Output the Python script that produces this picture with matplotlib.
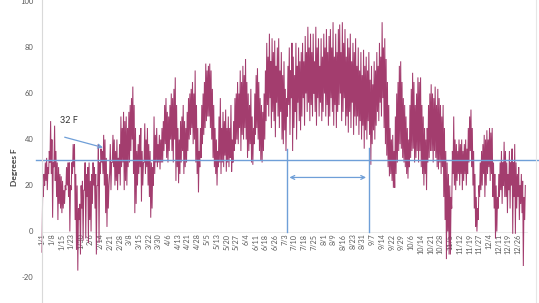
import numpy as np
import matplotlib
matplotlib.use("Agg")
import matplotlib.pyplot as plt
from matplotlib.lines import Line2D

# ---- data: daily high / low temperatures (deg F), day 0 = Jan 1 ----
highs = [
    17, 25, 30, 32, 28, 35, 48,
    40, 30, 46, 35, 30, 28, 25,
    24, 22, 18, 20, 28, 30, 30,
    20, 30, 38, 38, 25, 20, 10,
    12, 20, 22, 18, 30, 25, 28,
    30, 22, 25, 30, 28, 25, 20,
    38, 30, 36, 35, 42, 40, 32,
    25, 20, 38, 30, 42, 40, 35,
    40, 32, 38, 50, 45, 52, 48,
    50, 45, 52, 55, 58, 63, 55,
    45, 35, 38, 42, 45, 35, 30,
    47, 40, 45, 38, 35, 30, 28,
    50, 42, 45, 38, 42, 40, 45,
    48, 55, 58, 52, 50, 55, 60,
    58, 62, 67, 55, 45, 40, 48,
    50, 55, 48, 45, 52, 58, 60,
    62, 65, 60, 70, 55, 45, 35,
    45, 55, 60, 65, 73, 70, 72,
    73, 70, 62, 55, 45, 40, 35,
    50, 58, 45, 52, 48, 53, 45,
    50, 45, 55, 40, 48, 58, 60,
    65, 60, 70, 65, 72, 68, 75,
    65, 60, 55, 62, 50, 45, 60,
    68, 71, 65, 58, 55, 52, 60,
    70, 82, 76, 86, 74, 84, 78,
    83, 72, 80, 84, 70, 78, 68,
    74, 62, 58, 72, 80, 70, 82,
    76, 68, 82, 72, 80, 74, 78,
    82, 74, 85, 78, 89, 80, 86,
    78, 86, 74, 89, 80, 84, 72,
    84, 76, 86, 80, 88, 78, 85,
    88, 80, 91, 76, 86, 78, 88,
    90, 78, 91, 82, 88, 76, 84,
    80, 86, 74, 82, 78, 84, 72,
    80, 70, 78, 68, 79, 72, 76,
    70, 78, 66, 72, 64, 74, 70,
    78, 72, 82, 76, 91, 80, 84,
    75, 65, 55, 45, 40, 42, 35,
    50, 60, 65, 72, 74, 65, 58,
    55, 50, 45, 40, 55, 62, 69,
    65, 55, 60, 67, 65, 67, 55,
    50, 45, 40, 45, 55, 60, 64,
    60, 58, 63, 55, 62, 58, 55,
    50, 55, 45, 35, 30, 25, 20,
    15, 35, 50, 40, 38, 35, 40,
    38, 40, 35, 38, 40, 36, 45,
    50, 53, 45, 35, 25, 15, 10,
    20, 30, 35, 38, 42, 40, 44,
    40, 45, 43, 45, 30, 25, 20,
    15, 25, 30, 35, 30, 39, 35,
    30, 25, 35, 30, 36, 30, 38,
    30, 25, 28, 20, 25, 22, 15,
    20,
]
lows = [
    -9, 15, 20, 22, 18, 25, 30,
    25, 6, 28, 22, 15, 5, 12,
    10, 8, 10, 12, 18, 20, 15,
    0, 18, 25, 28, 5, -8, -17,
    5, -10, 10, -4, 18, -3, 15,
    -5, 5, 0, 12, 20, 10, -10,
    20, -5, 25, 30, 25, 20, 8,
    2, 10, 25, 18, 30, 28, 20,
    22, 18, 25, 20, 28, 30, 18,
    22, 20, 28, 30, 35, 40, 25,
    8, 12, 20, 25, 28, 13, 20,
    30, 25, 28, 20, 15, 6, 10,
    20, 25, 30, 28, 30, 27, 30,
    30, 35, 38, 32, 30, 35, 40,
    35, 30, 40, 22, 28, 21, 25,
    30, 35, 25, 28, 30, 35, 40,
    42, 45, 38, 40, 30, 25, 17,
    28, 32, 38, 42, 45, 48, 50,
    50, 45, 40, 32, 28, 25, 20,
    28, 30, 25, 30, 28, 33, 26,
    30, 28, 32, 26, 30, 35, 38,
    40, 38, 45, 35, 42, 40, 45,
    40, 32, 35, 38, 30, 29, 38,
    42, 45, 40, 35, 31, 30, 35,
    40, 48, 55, 50, 58, 45, 52,
    48, 41, 56, 50, 45, 52, 40,
    38, 44, 35, 50, 55, 42, 58,
    35, 45, 52, 40, 56, 48, 44,
    50, 58, 46, 60, 52, 56, 48,
    55, 50, 60, 52, 46, 58, 50,
    56, 48, 52, 60, 50, 55, 46,
    50, 58, 52, 46, 55, 45, 52,
    55, 60, 48, 52, 58, 46, 50,
    43, 52, 45, 56, 42, 50, 46,
    50, 42, 48, 40, 46, 36, 44,
    40, 48, 42, 29, 38, 44, 40,
    46, 52, 48, 56, 50, 58, 45,
    38, 33, 28, 24, 25, 22, 19,
    19, 25, 30, 35, 38, 36, 32,
    30, 28, 25, 23, 28, 32, 35,
    36, 30, 32, 35, 30, 35, 28,
    25, 20, 25, 18, 30, 32, 35,
    35, 30, 35, 32, 28, 27, 30,
    25, 28, 15, 5, -12, 0, -10,
    -10, 10, 25, 20, 18, 22, 25,
    20, 25, 18, 22, 25, 20, 25,
    30, 35, 28, 20, 10, 2, 0,
    5, 15, 18, 20, 25, 15, 20,
    25, 28, 22, 25, 15, 10, -3,
    0, 10, 15, 18, 12, 20, 15,
    15, 8, 18, 10, 20, -1, 15,
    -1, 10, 15, 5, 12, 8, -15,
    5,
]
tick_labels = [
    "1/1", "1/8", "1/15", "1/23", "1/30", "2/6", "2/14", "2/21", "2/28", "3/8",
    "3/15", "3/22", "3/30", "4/6", "4/13", "4/21", "4/28", "5/5", "5/13", "5/20",
    "5/27", "6/4", "6/11", "6/18", "6/26", "7/3", "7/10", "7/18", "7/25", "8/1",
    "8/9", "8/16", "8/23", "8/31", "9/7", "9/14", "9/22", "9/29", "10/6", "10/14",
    "10/21", "10/28", "11/5", "11/12", "11/19", "11/27", "12/4", "12/11", "12/19", "12/26",
]
yticks = [-20, 0, 20, 40, 60, 80, 100]
freeze_line = 31
freeze_text = "32 F"
season_start = 184.8   # day of first vertical marker
season_end = 246.6     # day of second vertical marker

# ---- figure ----
W, H = 539, 303
fig = plt.figure(figsize=(W / 100, H / 100), dpi=100)
ax = fig.add_axes([0, 0, 1, 1])
ax.patch.set_alpha(0)

# spines first (set_position resets tick settings)
for s in ["top", "right"]:
    ax.spines[s].set_visible(False)
ax.spines["left"].set_position(("data", -0.3))
ax.spines["left"].set_color("#d9d9d9")
ax.spines["left"].set_linewidth(0.8)
ax.spines["bottom"].set_position(("data", 0))
ax.spines["bottom"].set_visible(False)

px_day = 1.326
x0 = 42
ax.set_xlim(-x0 / px_day, (W - x0) / px_day)
ax.set_ylim((231.5 - H) / 2.3, 231.5 / 2.3)

temps = np.column_stack((lows, highs)).ravel()
xs = np.arange(len(temps)) / 2.0
ax.plot(xs, temps, color="#9b2c62", lw=0.75, alpha=0.92, solid_joinstyle="miter")

blue = "#6f9fd8"
ax.plot([-4.5, 400], [freeze_line, freeze_line], color=blue, lw=1.0, clip_on=False)

ax.plot([season_start, season_start], [0, 35.7], color=blue, lw=1.0)
ax.plot([season_end, season_end], [0, 36.5], color=blue, lw=1.0)
ax.annotate("", xy=(season_start + 1.8, 23.5), xytext=(season_end - 2.2, 23.5),
            arrowprops=dict(arrowstyle="<->", color=blue, lw=0.9,
                            shrinkA=0, shrinkB=0, mutation_scale=7))
ax.annotate("", xy=(46.0, 36.5), xytext=(17.1, 41.0),
            arrowprops=dict(arrowstyle="->", color=blue, lw=0.9,
                            shrinkA=0, shrinkB=0, mutation_scale=7))
ax.text(20.4, 48.3, freeze_text, fontsize=6.5, color="#333333",
        ha="center", va="center", family="Lato")

# axes ticks
tick_pos = np.arange(len(tick_labels)) * 359 / 49
ax.set_xticks(tick_pos)
ax.set_xticklabels(tick_labels, rotation=90, fontsize=5.2, color="#595959", family="Lato")
ax.set_yticks(yticks)
ax.set_yticklabels([str(v) for v in yticks], fontsize=5.5, color="#595959", family="Lato")
ax.tick_params(axis="both", length=0)
ax.tick_params(axis="x", pad=1.5)
ax.tick_params(axis="y", pad=6)

ax.plot([-0.3, 366], [0, 0], color="#e6e6e6", lw=0.6, zorder=0)

fig.text(15 / W, 1 - 167 / H, "Degrees F", rotation=90, ha="center", va="center",
         fontsize=6, fontweight="bold", color="#404040", family="Lato")
fig.add_artist(Line2D([535.5 / W, 535.5 / W], [0, 1], color="#e6e6e6", lw=0.8))

fig.savefig("out.png", dpi=100)
